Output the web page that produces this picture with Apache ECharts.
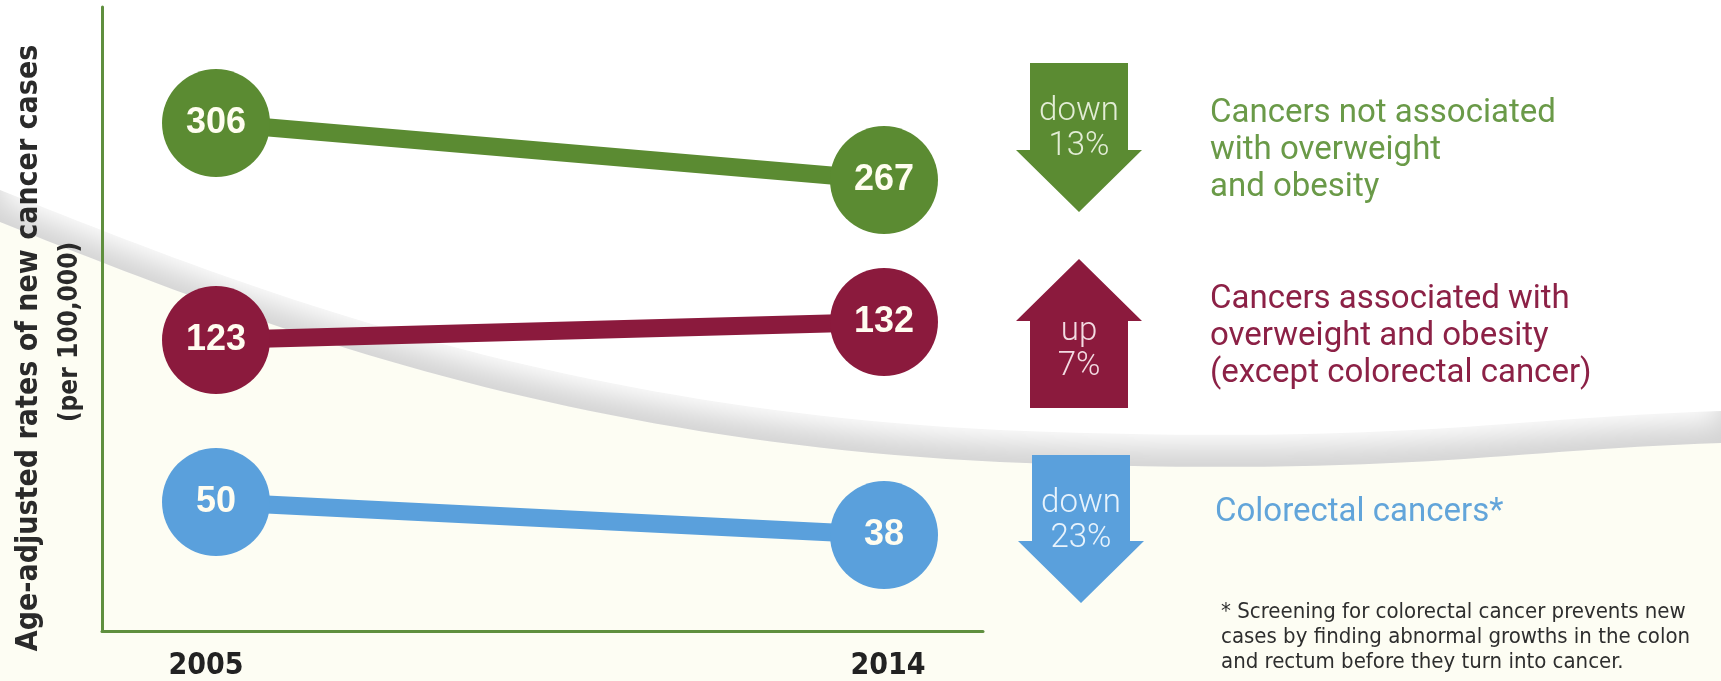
<!DOCTYPE html>
<html>
<head>
<meta charset="utf-8">
<title>Cancer incidence 2005-2014</title>
<script src="https://cdn.jsdelivr.net/npm/echarts@6/dist/echarts.min.js"></script>
<style>
  html, body { margin: 0; padding: 0; background: #fdfdf3; }
  #main { width: 1721px; height: 681px; }
</style>
</head>
<body>
<div id="main"></div>
<script>
// data
var years = [2005, 2014];
var notAssoc = [306, 267];      // cancers not associated with overweight and obesity
var assoc = [123, 132];         // associated with overweight and obesity (except colorectal)
var colorectal = [50, 38];      // colorectal cancers
var changeWord = ['down', 'up', 'down'];
var changePct = ['13%', '7%', '23%'];
var labelLines = [
  ['Cancers not associated', 'with overweight', 'and obesity'],
  ['Cancers associated with', 'overweight and obesity', '(except colorectal cancer)'],
  ['Colorectal cancers*']
];
var footnote = ['* Screening for colorectal cancer prevents new',
  'cases by finding abnormal growths in the colon',
  'and rectum before they turn into cancer.'];

var GREEN = '#5b8b32', RED = '#8b1a3d', BLUE = '#5aa0dc';
var NARROW = "'Liberation Sans Narrow', 'DejaVu Sans Condensed', 'Roboto', sans-serif";

function pairs(vals) {
  return years.map(function (y, i) { return [y, vals[i]]; });
}

// sample a cubic bezier for the decorative swoosh
function cubic(p0, p1, p2, p3, n) {
  var out = [];
  for (var i = 0; i <= n; i++) {
    var t = i / n, u = 1 - t;
    out.push([
      u*u*u*p0[0] + 3*u*u*t*p1[0] + 3*u*t*t*p2[0] + t*t*t*p3[0],
      u*u*u*p0[1] + 3*u*u*t*p1[1] + 3*u*t*t*p2[1] + t*t*t*p3[1]
    ]);
  }
  return out;
}
var edge = cubic([0, 222], [250, 322], [550, 440], [1000, 462], 50)
  .concat(cubic([1000, 462], [1400, 478], [1500, 450], [1721, 443], 30).slice(1));
var grayPoly = [[0, 0]].concat(edge, [[1721, 0]]);
var whitePoly = [[0, -60]].concat(edge.map(function (p) { return [p[0], p[1] - 32]; }), [[1721, -60]]);

function arrow(cx, top, bottom, up, color) {
  var sw = 49, hw = 63, hl = 62, pts;
  if (up) {
    pts = [[cx, top], [cx + hw, top + hl], [cx + sw, top + hl], [cx + sw, bottom],
           [cx - sw, bottom], [cx - sw, top + hl], [cx - hw, top + hl]];
  } else {
    pts = [[cx - sw, top], [cx + sw, top], [cx + sw, bottom - hl], [cx + hw, bottom - hl],
           [cx, bottom], [cx - hw, bottom - hl], [cx - sw, bottom - hl]];
  }
  return { type: 'polygon', z: 5, shape: { points: pts }, style: { fill: color } };
}

function arrowText(cx, cy, i, color) {
  return { type: 'text', z: 6, style: {
    text: changeWord[i] + '\n' + changePct[i], x: cx, y: cy,
    textAlign: 'center', textVerticalAlign: 'middle', lineHeight: 35,
    fontSize: 33, fontWeight: 300, fontFamily: 'Roboto, sans-serif', fill: color } };
}

function sideText(x, yTop, lines, color, size, lh, family) {
  return { type: 'text', z: 6, style: {
    text: lines.join('\n'), x: x, y: yTop, textAlign: 'left', textVerticalAlign: 'top',
    lineHeight: lh, fontSize: size, fontFamily: family, fill: color } };
}

function lineSeries(name, vals, color, axis) {
  return {
    name: name, type: 'line', yAxisIndex: axis, data: pairs(vals),
    symbol: 'circle', symbolSize: 108,
    lineStyle: { color: color, width: 18 },
    itemStyle: { color: color },
    label: { show: true, position: 'inside', formatter: function (p) { return p.value[1]; },
      color: '#fffdf0', fontSize: 36, fontWeight: 'bold', fontFamily: 'Liberation Sans, Arial, sans-serif' },
    emphasis: { disabled: true }, animation: false
  };
}

var yearFont = { color: '#222', fontSize: 30, fontWeight: 'bold', fontFamily: NARROW };

var chart = echarts.init(document.getElementById('main'));
chart.setOption({
  animation: false,
  backgroundColor: '#fdfdf3',
  grid: { left: 102, right: 738, top: 7, bottom: 50 },
  xAxis: {
    type: 'value', min: 2003.464, max: 2015.334,
    axisLine: { show: true, onZero: false, lineStyle: { color: '#5f8f3e', width: 3 } },
    axisTick: { show: false }, splitLine: { show: false },
    axisLabel: {
      customValues: years, margin: 20,
      formatter: function (v) { return (v === years[0] ? '{l|' : '{r|') + v + '}'; },
      rich: {
        l: Object.assign({ padding: [0, 20, 0, 0] }, yearFont),
        r: Object.assign({ padding: [0, 0, 0, 8] }, yearFont)
      }
    }
  },
  yAxis: [
    { type: 'value', min: -41.5, max: 385.4, splitLine: { show: false },
      axisLine: { show: true, onZero: false, lineStyle: { color: '#5f8f3e', width: 3 } },
      axisTick: { show: false }, axisLabel: { show: false } },
    { type: 'value', min: -22.5, max: 289.5, show: false, splitLine: { show: false } },
    { type: 'value', min: 3.1, max: 230.0, show: false, splitLine: { show: false } }
  ],
  series: [
    lineSeries(labelLines[0].join(' '), notAssoc, GREEN, 0),
    lineSeries(labelLines[1].join(' '), assoc, RED, 1),
    lineSeries(labelLines[2].join(' '), colorectal, BLUE, 2)
  ],
  graphic: [
    { type: 'polygon', z: -10, silent: true, shape: { points: grayPoly }, style: { fill: '#d3d3d3' } },
    { type: 'polygon', z: -9, silent: true, shape: { points: whitePoly },
      style: { fill: '#ffffff', shadowBlur: 30, shadowColor: '#ffffff', shadowOffsetY: 12 } },

    { type: 'text', z: 6, rotation: Math.PI / 2, x: 29, y: 348, style: {
      text: 'Age-adjusted rates of new cancer cases', textAlign: 'center', textVerticalAlign: 'middle',
      fontSize: 30, fontWeight: 'bold', fontFamily: NARROW, fill: '#2a2a2a' } },
    { type: 'text', z: 6, rotation: Math.PI / 2, x: 70, y: 332, style: {
      text: '(per 100,000)', textAlign: 'center', textVerticalAlign: 'middle',
      fontSize: 26, fontWeight: 'bold', fontFamily: NARROW, fill: '#2a2a2a' } },

    arrow(1079, 63, 212, false, GREEN),
    arrowText(1079, 129, 0, '#e3edd6'),
    arrow(1079, 259, 408, true, RED),
    arrowText(1079, 349, 1, '#f3dbe2'),
    arrow(1081, 455, 603, false, BLUE),
    arrowText(1081, 521, 2, '#e8f3fc'),

    sideText(1210, 95, labelLines[0], '#6a9a48', 33, 37, 'Roboto, sans-serif'),
    sideText(1210, 281, labelLines[1], '#8c2146', 33, 37, 'Roboto, sans-serif'),
    sideText(1215, 494, labelLines[2], '#62a5da', 33, 37, 'Roboto, sans-serif'),
    sideText(1221, 600, footnote, '#2e2e2e', 22, 25, NARROW)
  ]
});
</script>
</body>
</html>
